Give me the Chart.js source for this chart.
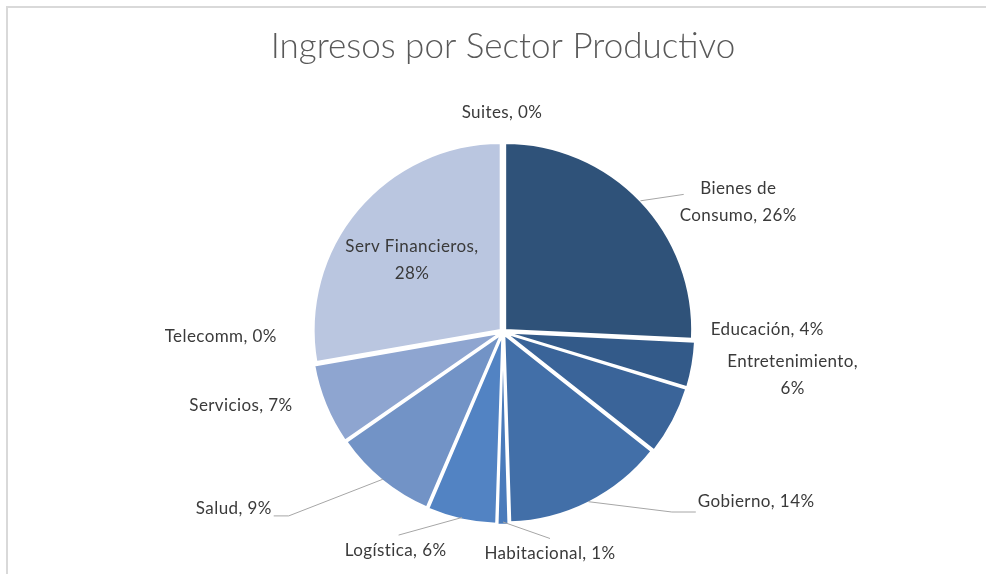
<!DOCTYPE html>
<html>
<head>
<meta charset="utf-8">
<script src="https://cdn.jsdelivr.net/npm/chart.js@4.4.1/dist/chart.umd.min.js"></script>
<style>
html, body { margin: 0; padding: 0; background: #fff; overflow: hidden; }
#wrap { position: relative; width: 986px; height: 574px; }
#frame { position: absolute; left: 6px; top: 6px; width: 1000px; height: 600px;
  border-top: 2px solid #d9d9d9; border-left: 2px solid #d9d9d9; }
canvas { position: absolute; left: 0; top: 0; }
</style>
</head>
<body>
<div id="wrap">
  <div id="frame"></div>
  <canvas id="chart" width="986" height="574"></canvas>
</div>
<script>
// data, clockwise from 12 o'clock
var categories = ['Bienes de Consumo', 'Educación', 'Entretenimiento', 'Gobierno', 'Habitacional',
  'Logística', 'Salud', 'Servicios', 'Telecomm', 'Serv Financieros', 'Suites'];
var shares = [26, 4, 6, 14, 1, 6, 9, 7, 0, 28, 0];
var chartTitle = 'Ingresos por Sector Productivo';

var sliceColors = ['#2f5279', '#335a89', '#3a6499', '#426fa8', '#4a7bbb',
  '#5283c3', '#7293c6', '#8ea5d0', '#a7b7d9', '#bac6e0', '#c9d3e8'];

// where each label sits, relative to the middle of its slice's rim
// wrap = words on the first line, lead = [side, y offset, tail]
var labelLayout = [
  {dx: 100, dy: -1, wrap: 2, lead: ['left', 6, 0]},
  {dx: 80, dy: -34},
  {dx: 124, dy: -44, wrap: 1},
  {dx: 169, dy: 3, lead: ['left', 10, 24]},
  {dx: 47, dy: 35, lead: ['top', 0, 0]},
  {dx: -67, dy: 36, lead: ['top', 3, 0]},
  {dx: -151, dy: 32, lead: ['right', 7, 15]},
  {dx: -89, dy: 3},
  {dx: -98, dy: -27},
  {dx: 52, dy: 48, wrap: 2},
  {dx: -1, dy: -32}
];

var sliceLabels = {
  id: 'sliceLabels',
  afterDatasetsDraw: function(chart) {
    var ctx = chart.ctx;
    var meta = chart.getDatasetMeta(0);
    var lh = 27;
    ctx.save();
    ctx.font = '17px Lato';
    ctx.letterSpacing = '0.4px';
    ctx.textAlign = 'center';
    ctx.textBaseline = 'middle';
    meta.data.forEach(function(arc, i) {
      var p = arc.getProps(['x', 'y', 'startAngle', 'endAngle', 'outerRadius'], true);
      var mid = (p.startAngle + p.endAngle) / 2;
      var ex = p.x + Math.cos(mid) * p.outerRadius;
      var ey = p.y + Math.sin(mid) * p.outerRadius;
      var lay = labelLayout[i];
      var words = (categories[i] + ', ' + shares[i] + '%').split(' ');
      var lines = lay.wrap ? [words.slice(0, lay.wrap).join(' '), words.slice(lay.wrap).join(' ')] : [words.join(' ')];
      var cx = ex + lay.dx, cy = ey + lay.dy;
      var bw = 0;
      lines.forEach(function(t) { bw = Math.max(bw, ctx.measureText(t).width); });
      var top = cy - lh * lines.length / 2;

      ctx.fillStyle = '#3a3a3a';
      lines.forEach(function(t, k) {
        ctx.fillText(t, cx, top + lh * (k + 0.5));
      });

      if (lay.lead) {
        var side = lay.lead[0], off = lay.lead[1], tail = lay.lead[2];
        var sx = p.x + Math.cos(mid) * (p.outerRadius + 3);
        var sy = p.y + Math.sin(mid) * (p.outerRadius + 3);
        ctx.strokeStyle = '#a6a6a6';
        ctx.lineWidth = 1;
        ctx.beginPath();
        ctx.moveTo(sx, sy);
        if (side === 'top') {
          ctx.lineTo(cx + off, top - 2);
        } else if (side === 'left') {
          var lx = cx - bw / 2;
          var ly = top + lh / 2 + off;
          if (tail) {
            ctx.lineTo(lx - 2 - tail, ly);
            ctx.lineTo(lx - 2, ly);
          } else {
            ctx.lineTo(lx + 4, ly);
          }
        } else {
          var rx = cx + bw / 2;
          var ry = top + lh / 2 + off;
          ctx.lineTo(rx + 2 + tail, ry);
          ctx.lineTo(rx + 2, ry);
        }
        ctx.stroke();
      }
    });
    ctx.restore();
  }
};

new Chart(document.getElementById('chart'), {
  type: 'pie',
  data: {
    labels: categories,
    datasets: [{
      data: shares,
      backgroundColor: sliceColors,
      borderColor: '#ffffff',
      borderWidth: 2,
      offset: 12,
      radius: 187
    }]
  },
  options: {
    responsive: false,
    animation: false,
    devicePixelRatio: 1,
    layout: { padding: { top: 10, bottom: 5, left: 30, right: 10 } },
    plugins: {
      legend: { display: false },
      tooltip: { enabled: false },
      title: {
        display: true,
        text: chartTitle,
        color: '#595959',
        font: { family: 'Lato', size: 35, weight: 300 },
        padding: { top: 16, bottom: 27 }
      }
    }
  },
  plugins: [sliceLabels]
});
</script>
</body>
</html>
